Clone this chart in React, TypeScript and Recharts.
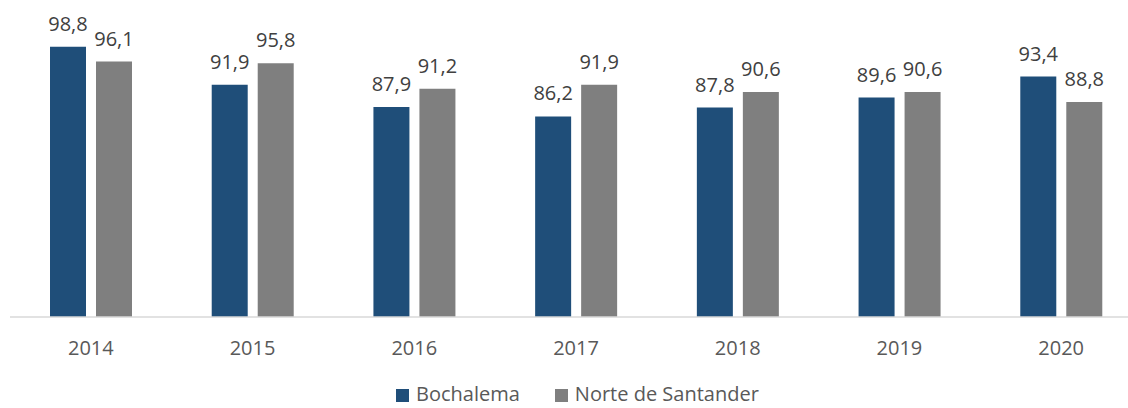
import React from 'react';
import { BarChart, Bar, XAxis, YAxis, LabelList, Legend } from 'recharts';

const years = ['2014', '2015', '2016', '2017', '2018', '2019', '2020'];
const bochalema = [98.8, 91.9, 87.9, 86.2, 87.8, 89.6, 93.4];
const norteSantander = [96.1, 95.8, 91.2, 91.9, 90.6, 90.6, 88.8];
const seriesNames = ['Bochalema', 'Norte de Santander'];
const seriesColors = ['#1F4E79', '#7F7F7F'];

const data = years.map((y, i) => ({ year: y, a: bochalema[i], b: norteSantander[i] }));

const FONT = '"Open Sans", sans-serif';
const fmt = (v: any) => String(v).replace('.', ',');

const LegendContent = (props: any) => {
  const payload = props.payload || [];
  return (
    <div style={{ display: 'flex', paddingLeft: 396, height: 20, alignItems: 'center', fontFamily: FONT, fontSize: 20, color: '#595959', lineHeight: '20px' }}>
      {payload.map((p: any, i: number) => (
        <div key={i} style={{ display: 'flex', alignItems: 'center', marginRight: 35 }}>
          <span style={{ display: 'inline-block', width: 13, height: 13, background: p.color, marginRight: 7, marginTop: 3 }} />
          <span>{p.value}</span>
        </div>
      ))}
    </div>
  );
};

export default function App() {
  return (
    <div style={{ position: 'absolute', left: 0, top: 0, width: 1128, height: 408, overflow: 'hidden', background: '#fff' }}>
      <BarChart
        width={1150}
        height={408}
        data={data}
        margin={{ top: 40, right: 8, left: 10, bottom: 0 }}
        barSize={36}
        barGap={10}
      >
        <XAxis
          dataKey="year"
          tickLine={false}
          axisLine={{ stroke: '#D9D9D9', strokeWidth: 1.5 }}
          tick={{ fill: '#595959', fontSize: 20, fontFamily: FONT }}
          tickSize={6}
          tickMargin={18}
          height={71}
          interval={0}
        />
        <YAxis hide domain={[50, 100]} allowDataOverflow />
        <Legend content={<LegendContent />} verticalAlign="bottom" height={20} wrapperStyle={{ left: 0, width: 1128, bottom: 4 }} />
        <Bar dataKey="a" name={seriesNames[0]} fill={seriesColors[0]} isAnimationActive={false}>
          <LabelList dataKey="a" position="top" offset={16} formatter={fmt} style={{ fill: '#404040', fontSize: 20, fontFamily: FONT }} />
        </Bar>
        <Bar dataKey="b" name={seriesNames[1]} fill={seriesColors[1]} isAnimationActive={false}>
          <LabelList dataKey="b" position="top" offset={16} formatter={fmt} style={{ fill: '#404040', fontSize: 20, fontFamily: FONT }} />
        </Bar>
      </BarChart>
    </div>
  );
}
